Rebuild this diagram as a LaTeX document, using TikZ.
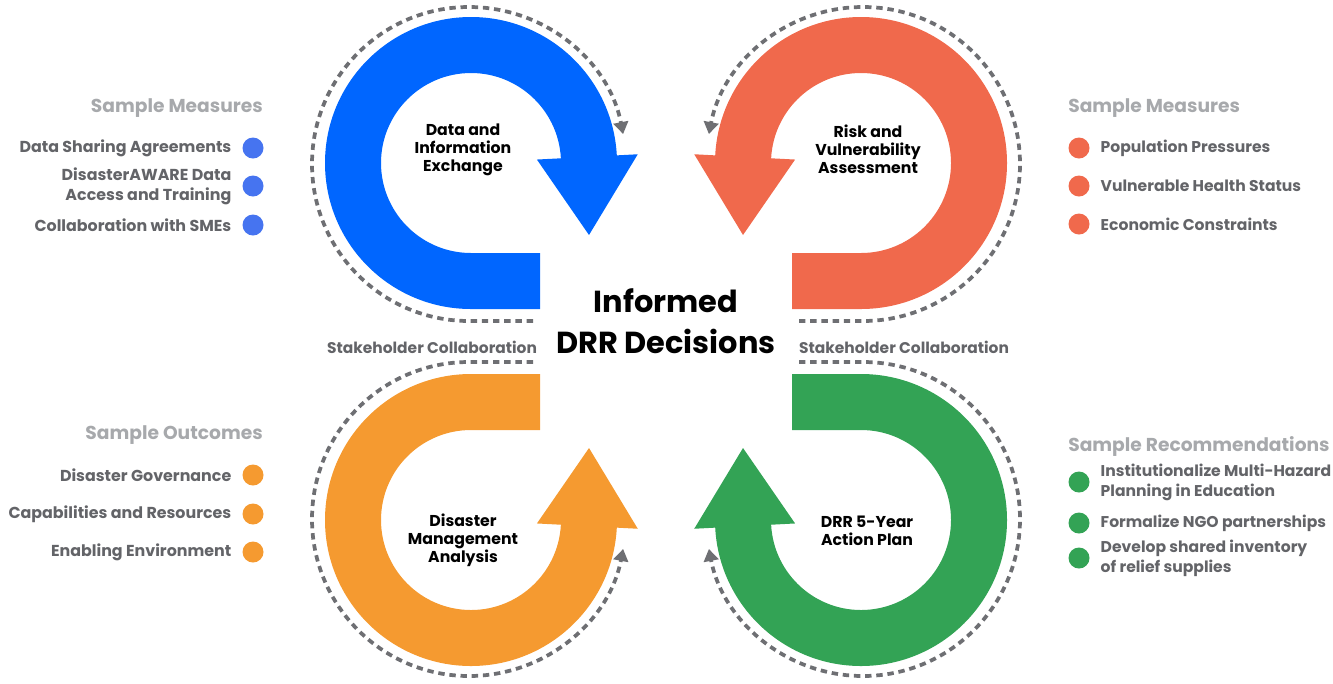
\documentclass[tikz,border=0pt]{standalone}
\usepackage{fontspec}
\setmainfont{Poppins}
\usetikzlibrary{arrows.meta,positioning}

\definecolor{loopblue}{RGB}{0,102,255}
\definecolor{loopred}{RGB}{240,105,76}
\definecolor{looporange}{RGB}{245,154,48}
\definecolor{loopgreen}{RGB}{51,163,85}
\definecolor{dotblue}{RGB}{70,116,240}
\definecolor{ringgray}{RGB}{110,111,115}
\definecolor{itemgray}{RGB}{99,100,104}
\definecolor{headgray}{RGB}{167,169,172}

% one loop round its own centre (top left one), the others are mirrored
\def\loopband{(69,146) -- (0,146) arc[start angle=90, end angle=357, radius=146] -- (357:167) -- (118,72) -- (357:66) -- (357:90) arc[start angle=357, end angle=90, radius=90] -- (69,90) -- cycle}
\def\loopring{(62,158) -- (-2,158) arc[start angle=90, end angle=349, radius=157]}

\begin{document}
\begin{tikzpicture}[x=0.75pt, y=-0.75pt,
	ringdash/.style={draw=ringgray, line width=2.8pt, dash pattern=on 4.8pt off 3.6pt, -{Triangle[length=9pt, width=11pt]}},
	hubtitle/.style={font=\bfseries\fontsize{22.8}{30.75}\selectfont, align=center, inner sep=0pt},
	hublabel/.style={font=\bfseries\fontsize{11.8}{13.5}\selectfont, align=center, inner sep=0pt},
	collab/.style={font=\bfseries\fontsize{11.6}{12}\selectfont, text=itemgray, inner sep=0pt},
	listhead/.style={font=\bfseries\fontsize{14}{16}\selectfont, text=headgray, inner sep=0pt},
	itemL/.style={font=\bfseries\fontsize{11.9}{15}\selectfont, text=itemgray, align=right, inner sep=0pt},
	itemR/.style={font=\bfseries\fontsize{11.7}{15}\selectfont, text=itemgray, align=left, inner sep=0pt},
	dot/.style={circle, fill=#1, minimum size=15.75pt, inner sep=0pt}]
	%%%%% START %%%%%
	\useasboundingbox (0,0) rectangle (1333,683);
	
	\begin{scope}[shift={(666,341.5)}]
		\begin{scope}[shift={(-195,-178.5)}]
			\fill[loopblue] \loopband;
			\draw[ringdash] \loopring;
		\end{scope}
		\begin{scope}[xscale=-1, shift={(-195,-178.5)}]
			\fill[loopred] \loopband;
			\draw[ringdash] \loopring;
		\end{scope}
		\begin{scope}[yscale=-1, shift={(-195,-178.5)}]
			\fill[looporange] \loopband;
			\draw[ringdash] \loopring;
		\end{scope}
		\begin{scope}[xscale=-1, yscale=-1, shift={(-195,-178.5)}]
			\fill[loopgreen] \loopband;
			\draw[ringdash] \loopring;
		\end{scope}
	\end{scope}
	
	\node[hubtitle] (title) at (666,321) {Informed\\DRR Decisions};
	
	\node[hublabel] (share) at (463,150) {Data and\\Information\\Exchange};
	\node[hublabel] (risk) at (868,149) {Risk and\\Vulnerability\\Assessment};
	\node[hublabel] (analysis) at (463,540) {Disaster\\Management\\Analysis};
	\node[hublabel] (plan) at (867,531) {DRR 5-Year\\Action Plan};
	
	\node[collab] (collabL) at (432,347) {Stakeholder Collaboration};
	\node[collab] (collabR) at (904,347) {Stakeholder Collaboration};
	
	% top left list
	\node[listhead, anchor=east] (headA) at (263,108) {Sample Measures};
	\node[dot=dotblue] (a1) at (253,148) {};
	\node[dot=dotblue] (a2) at (253,186) {};
	\node[dot=dotblue] (a3) at (253,225) {};
	\node[itemL, left=8pt of a1] (ta1) {Data Sharing Agreements};
	\node[itemL, left=8pt of a2] (ta2) {DisasterAWARE Data\\Access and Training};
	\node[itemL, left=8pt of a3] (ta3) {Collaboration with SMEs};
	
	% top right list
	\node[listhead, anchor=west] (headB) at (1068,108) {Sample Measures};
	\node[dot=loopred] (b1) at (1079,148) {};
	\node[dot=loopred] (b2) at (1079,186) {};
	\node[dot=loopred] (b3) at (1079,224) {};
	\node[itemR, right=8pt of b1] (tb1) {Population Pressures};
	\node[itemR, right=8pt of b2] (tb2) {Vulnerable Health Status};
	\node[itemR, right=8pt of b3] (tb3) {Economic Constraints};
	
	% bottom left list
	\node[listhead, anchor=east] (headC) at (263,435) {Sample Outcomes};
	\node[dot=looporange] (c1) at (253,475) {};
	\node[dot=looporange] (c2) at (253,514) {};
	\node[dot=looporange] (c3) at (253,552) {};
	\node[itemL, left=8pt of c1] (tc1) {Disaster Governance};
	\node[itemL, left=8pt of c2] (tc2) {Capabilities and Resources};
	\node[itemL, left=8pt of c3] (tc3) {Enabling Environment};
	
	% bottom right list
	\node[listhead, anchor=west] (headD) at (1068,446) {Sample Recommendations};
	\node[dot=loopgreen] (d1) at (1079,482) {};
	\node[dot=loopgreen] (d2) at (1079,523) {};
	\node[dot=loopgreen] (d3) at (1079,558) {};
	\node[itemR, right=8pt of d1] (td1) {Institutionalize Multi-Hazard\\Planning in Education};
	\node[itemR, right=8pt of d2] (td2) {Formalize NGO partnerships};
	\node[itemR, right=8pt of d3] (td3) {Develop shared inventory\\of relief supplies};
	%%%%% END %%%%%
\end{tikzpicture}
\end{document}
